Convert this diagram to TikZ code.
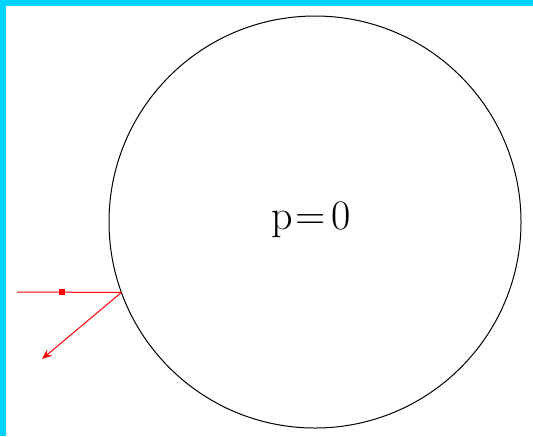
\documentclass[tikz,border=0pt]{standalone}
\usepackage{xcolor}
\definecolor{FrameCyan}{HTML}{00D2FA}
\definecolor{RayRed}{HTML}{FF0000}
\usepackage{tikz}
\usetikzlibrary{arrows.meta}

\begin{document}
\begin{tikzpicture}[x=0.5pt, y=-0.5pt,
    ray/.style={RayRed, line width=0.5pt},
    marker/.style={fill=RayRed, minimum size=3pt, inner sep=0pt},
]
% Canvas: 533 x 436 px, 1px = 0.5pt, y grows downwards
\useasboundingbox (0,0) rectangle (533,436);
\fill[white] (0,0) rectangle (533,436);

% Frame strips (top, left)
\fill[FrameCyan] (0,0) rectangle (533,6);
\fill[FrameCyan] (0,0) rectangle (6,436);

% Sphere
\node[circle, draw, line width=0.5pt, minimum size=206pt, inner sep=0pt, outer sep=0pt] (ball) at (315,222) {};
\node[font=\fontsize{21}{25}\selectfont] (label) at (311,220) {p\kern1.5pt=\kern3pt0};

% Incident ray and reflection
\coordinate (src) at (17,292);
\coordinate (out) at (42,359);
\node[marker] (dot) at (62,292) {};
\draw[ray] (src) -- (ball.200);
\draw[ray, -{Stealth[length=5pt, width=4pt]}] (ball.200) -- (out);
\end{tikzpicture}
\end{document}
